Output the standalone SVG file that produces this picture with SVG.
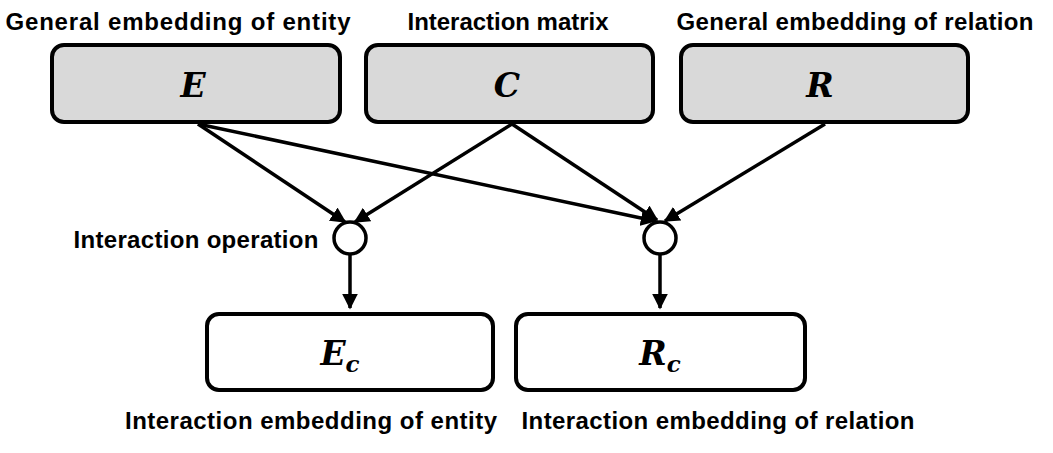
<svg xmlns="http://www.w3.org/2000/svg" width="1053" height="453" viewBox="0 0 1053 453">
<defs>
<style>
.lbl{font-family:"Liberation Sans",Arial,sans-serif;font-weight:bold;font-size:24px;fill:#000;text-anchor:middle}
.math{font-family:"DejaVu Serif","Liberation Serif",serif;font-weight:bold;font-style:italic;font-size:33px;fill:#000;text-anchor:middle}
.sub{font-size:23px}
.gbox{fill:#d9d9d9;stroke:#000;stroke-width:4}
.wbox{fill:#fff;stroke:#000;stroke-width:4}
.op{fill:#fff;stroke:#000;stroke-width:3.5}
.edge{stroke:#000;stroke-width:3.5;fill:none;marker-end:url(#ah)}
</style>
<marker id="ah" viewBox="0 0 10 10" refX="9" refY="5" markerWidth="4.5" markerHeight="4.5" orient="auto" markerUnits="strokeWidth">
<path d="M0,0 L10,5 L0,10 z" fill="#000"/>
</marker>
</defs>
<rect width="1053" height="453" fill="#fff"/>
<g id="connectors">
<line class="edge" x1="198" y1="124" x2="345" y2="222"/>
<line class="edge" x1="198" y1="124" x2="655" y2="221"/>
<line class="edge" x1="512" y1="124" x2="355" y2="222"/>
<line class="edge" x1="512" y1="124" x2="657" y2="220"/>
<line class="edge" x1="825" y1="124" x2="665" y2="221"/>
<line class="edge" x1="350" y1="255" x2="350" y2="308"/>
<line class="edge" x1="660" y1="255" x2="660" y2="308"/>
</g>
<g id="node-E">
<rect class="gbox" x="52" y="45" width="288" height="77" rx="12"/>
<text class="math" x="193" y="97">E</text>
<text class="lbl" x="178" y="30" textLength="345" lengthAdjust="spacing">General embedding  of entity</text>
</g>
<g id="node-C">
<rect class="gbox" x="366" y="45" width="287" height="77" rx="12"/>
<text class="math" x="507" y="97">C</text>
<text class="lbl" x="508" y="30" textLength="201" lengthAdjust="spacing">Interaction matrix</text>
</g>
<g id="node-R">
<rect class="gbox" x="681" y="45" width="287" height="77" rx="12"/>
<text class="math" x="820" y="97">R</text>
<text class="lbl" x="855" y="30" textLength="357" lengthAdjust="spacing">General embedding  of relation</text>
</g>
<g id="op-left">
<circle class="op" cx="350" cy="238" r="16"/>
<text class="lbl" x="196" y="248" textLength="245" lengthAdjust="spacing">Interaction operation</text>
</g>
<g id="op-right">
<circle class="op" cx="660" cy="238" r="16"/>
</g>
<g id="node-Ec">
<rect class="wbox" x="207" y="314" width="286" height="76" rx="12"/>
<text class="math" x="340" y="365">E<tspan class="sub" dy="7">c</tspan></text>
<text class="lbl" x="311" y="429" textLength="372" lengthAdjust="spacing">Interaction embedding of entity</text>
</g>
<g id="node-Rc">
<rect class="wbox" x="516" y="314" width="289" height="76" rx="12"/>
<text class="math" x="660" y="365">R<tspan class="sub" dy="7">c</tspan></text>
<text class="lbl" x="718" y="429" textLength="393" lengthAdjust="spacing">Interaction embedding of relation</text>
</g>
</svg>
